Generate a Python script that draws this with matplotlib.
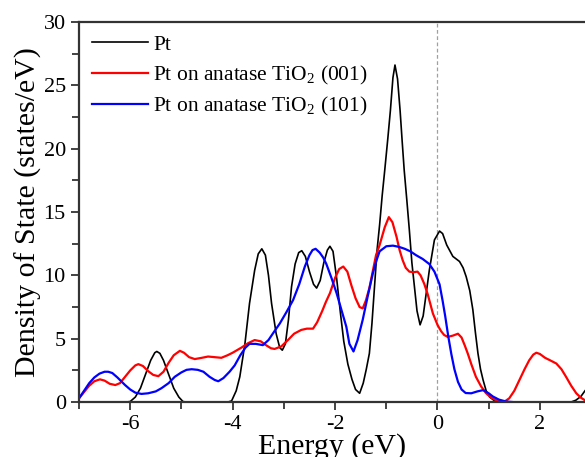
import matplotlib
matplotlib.use("Agg")
import matplotlib.pyplot as plt
from matplotlib.ticker import MultipleLocator

plt.rcParams.update({
    'font.family': 'Liberation Serif',
    'mathtext.fontset': 'custom',
    'mathtext.rm': 'Liberation Serif',
    'mathtext.it': 'Liberation Serif:italic',
    'axes.unicode_minus': False,
})

# |>- Data -<|

pt_energy = [-7.0, -6.1, -6.0, -5.9, -5.8, -5.7, -5.6, -5.52, -5.48, -5.42, -5.35, -5.25, -5.15,
             -5.05, -4.97, -4.9, -4.1, -4.02, -3.93, -3.86, -3.76, -3.67, -3.57, -3.5, -3.43,
             -3.36, -3.3, -3.24, -3.15, -3.08, -3.03, -2.97, -2.91, -2.85, -2.78, -2.71, -2.65,
             -2.58, -2.5, -2.42, -2.36, -2.29, -2.22, -2.15, -2.1, -2.04, -1.97, -1.9, -1.83,
             -1.75, -1.67, -1.6, -1.52, -1.45, -1.39, -1.33, -1.28, -1.23, -1.18, -1.13, -1.08,
             -1.03, -0.97, -0.92, -0.87, -0.83, -0.78, -0.73, -0.69, -0.65, -0.6, -0.55, -0.5,
             -0.45, -0.4, -0.34, -0.28, -0.22, -0.16, -0.06, 0.04, 0.1, 0.18, 0.3, 0.43, 0.5,
             0.56, 0.63, 0.69, 0.74, 0.79, 0.84, 0.89, 0.95, 1.02, 1.1, 1.2, 1.3, 2.6, 2.7,
             2.8, 2.88]
pt_dos = [0, 0, 0.05, 0.4, 1.1, 2.2, 3.3, 3.9, 4.0, 3.85, 3.3, 2.2, 1.1,
          0.4, 0.05, 0, 0, 0.1, 0.9, 2.0, 4.6, 7.8, 10.4, 11.7, 12.1,
          11.6, 10.0, 7.8, 5.4, 4.3, 4.1, 4.6, 6.5, 9.1, 10.9, 11.8, 11.95,
          11.5, 10.3, 9.3, 9.0, 9.6, 11.0, 12.0, 12.3, 11.9, 9.8, 7.2, 4.8,
          3.0, 1.8, 1.0, 0.7, 1.5, 2.6, 3.85, 6.2, 9.1, 12.0, 14.0, 16.3,
          18.3, 20.8, 23.0, 25.6, 26.6, 25.5, 23.0, 20.6, 18.3, 16.0, 13.6, 11.0,
          9.1, 7.2, 6.1, 6.8, 8.6, 10.4, 12.8, 13.5, 13.3, 12.4, 11.5, 11.1, 10.6,
          9.9, 8.8, 7.3, 5.5, 3.85, 2.6, 1.75, 0.9, 0.4, 0.15, 0.02, 0, 0, 0.15,
          0.45, 0.9]

tio2_001_energy = [-7.0, -6.9, -6.8, -6.7, -6.59, -6.5, -6.4, -6.29, -6.2, -6.1, -6.0, -5.9, -5.84,
                   -5.75, -5.65, -5.55, -5.45, -5.35, -5.25, -5.15, -5.03, -4.95, -4.85, -4.74,
                   -4.6, -4.48, -4.35, -4.22, -4.1, -4.0, -3.83, -3.7, -3.57, -3.45, -3.35, -3.25,
                   -3.18, -3.05, -2.92, -2.8, -2.66, -2.55, -2.43, -2.35, -2.25, -2.18, -2.1, -2.0,
                   -1.92, -1.84, -1.76, -1.68, -1.6, -1.52, -1.46, -1.4, -1.33, -1.26, -1.2, -1.13,
                   -1.03, -0.95, -0.88, -0.8, -0.74, -0.68, -0.62, -0.55, -0.47, -0.39, -0.33,
                   -0.26, -0.19, -0.09, 0.0, 0.07, 0.13, 0.2, 0.3, 0.4, 0.47, 0.53, 0.59, 0.66,
                   0.75, 0.85, 0.95, 1.05, 1.15, 1.25, 1.31, 1.4, 1.5, 1.6, 1.7, 1.79, 1.87, 1.93,
                   2.0, 2.1, 2.2, 2.32, 2.42, 2.51, 2.61, 2.71, 2.8, 2.88]
tio2_001_dos = [0.3, 0.8, 1.3, 1.65, 1.8, 1.7, 1.45, 1.35, 1.5, 2.0, 2.5, 2.9, 3.0,
                2.85, 2.45, 2.15, 2.05, 2.4, 3.1, 3.7, 4.05, 3.9, 3.55, 3.4,
                3.5, 3.6, 3.55, 3.5, 3.7, 3.9, 4.3, 4.65, 4.9, 4.8, 4.5, 4.25,
                4.2, 4.4, 4.9, 5.4, 5.7, 5.8, 5.8, 6.3, 7.2, 7.9, 8.6, 9.8,
                10.5, 10.7, 10.3, 9.2, 8.2, 7.5, 7.4, 8.0, 9.0, 10.4, 11.6, 12.4,
                13.8, 14.6, 14.2, 13.05, 12.0, 11.2, 10.6, 10.3, 10.25, 10.3, 10.0,
                9.35, 8.5, 7.0, 6.1, 5.6, 5.3, 5.15, 5.25, 5.4, 5.1, 4.5, 3.85, 3.0,
                2.0, 1.25, 0.7, 0.35, 0.15, 0.05, 0.05, 0.3, 0.9, 1.75, 2.6, 3.3, 3.75, 3.9,
                3.8, 3.5, 3.3, 3.05, 2.6, 2.0, 1.3, 0.7, 0.35, 0.15]

tio2_101_energy = [-7.0, -6.9, -6.8, -6.7, -6.6, -6.5, -6.43, -6.35, -6.25, -6.1, -6.0, -5.9, -5.78,
                   -5.65, -5.5, -5.39, -5.25, -5.13, -5.0, -4.9, -4.8, -4.68, -4.57, -4.45, -4.35,
                   -4.28, -4.18, -4.06, -3.96, -3.85, -3.75, -3.67, -3.55, -3.41, -3.3, -3.2, -3.08,
                   -2.95, -2.82, -2.7, -2.59, -2.5, -2.44, -2.38, -2.3, -2.23, -2.17, -2.07, -1.97,
                   -1.87, -1.78, -1.72, -1.64, -1.56, -1.46, -1.36, -1.26, -1.19, -1.13, -1.0, -0.87,
                   -0.75, -0.64, -0.53, -0.42, -0.29, -0.16, -0.06, 0.04, 0.1, 0.15, 0.21, 0.27,
                   0.33, 0.4, 0.47, 0.55, 0.66, 0.78, 0.89, 1.0, 1.08, 1.2, 1.34, 1.5, 2.88]
tio2_101_dos = [0.3, 0.9, 1.5, 1.95, 2.25, 2.4, 2.4, 2.3, 1.95, 1.35, 1.0, 0.75, 0.65,
                0.7, 0.85, 1.1, 1.5, 2.0, 2.35, 2.55, 2.6, 2.55, 2.4, 2.0, 1.75,
                1.65, 1.9, 2.4, 2.9, 3.7, 4.3, 4.6, 4.6, 4.5, 4.9, 5.5, 6.2,
                7.1, 8.05, 9.3, 10.7, 11.6, 12.0, 12.1, 11.8, 11.4, 10.9, 9.8, 8.6,
                7.2, 5.95, 4.6, 4.0, 4.9, 6.5, 8.4, 10.2, 11.2, 11.9, 12.3, 12.35,
                12.25, 12.1, 11.9, 11.6, 11.3, 10.9, 10.3, 9.3, 8.0, 6.8, 5.2, 3.8,
                2.6, 1.6, 1.0, 0.72, 0.7, 0.85, 0.95, 0.7, 0.45, 0.2, 0.05, 0, 0]

fig = plt.figure(figsize=(5.85, 4.57), dpi=100)
ax = fig.add_axes([0.135, 0.12, 0.865, 0.832])

ax.axvline(0, color='#a0a0a0', lw=0.9, ls=(0, (3, 2)), zorder=1)

ax.plot(pt_energy, pt_dos, color='black', lw=1.2, label='Pt')
ax.plot(tio2_001_energy, tio2_001_dos, color='red', lw=1.6,
        label='Pt on anatase TiO$_2$ (001)')
ax.plot(tio2_101_energy, tio2_101_dos, color='blue', lw=1.6,
        label='Pt on anatase TiO$_2$ (101)')

# |>- Format axes -<|

ax.set_xlim(-7, 2.88)
ax.set_ylim(0, 30)
ax.xaxis.set_major_locator(MultipleLocator(2))
ax.xaxis.set_minor_locator(MultipleLocator(1))
ax.yaxis.set_major_locator(MultipleLocator(5))
ax.yaxis.set_minor_locator(MultipleLocator(2.5))
ax.tick_params(which='both', direction='out', labelsize=16, width=1.2, color='#222222')
ax.tick_params(which='major', length=6)
ax.tick_params(which='minor', length=5)

ax.spines['right'].set_visible(False)
for side in ['top', 'left', 'bottom']:
    ax.spines[side].set_linewidth(1.6)
    ax.spines[side].set_color('#333333')

ax.set_xlabel('Energy (eV)', fontsize=21.5, labelpad=-1)
ax.set_ylabel('Density of State (states/eV)', fontsize=21.5, labelpad=1)

ax.legend(loc='upper left', frameon=False, fontsize=15.5, handlelength=2.6,
          handletextpad=0.25, labelspacing=0.4, borderaxespad=0.2,
          bbox_to_anchor=(0.0, 1.0))

plt.savefig('out.png', dpi=100)
